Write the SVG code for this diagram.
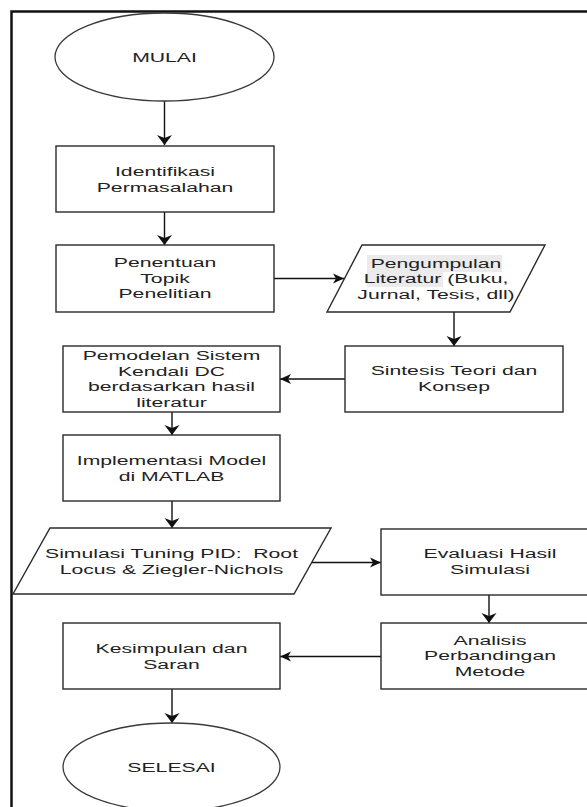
<svg xmlns="http://www.w3.org/2000/svg" width="587" height="807" viewBox="0 0 587 807">
<style>
.shape{fill:#fff;stroke:#2a2a2a;stroke-width:1.4}
.oval{fill:#fff;stroke:#3a3a3a;stroke-width:1.3}
.frame{fill:none;stroke:#111;stroke-width:2.5}
.lbl{font-family:"Liberation Sans",Arial,Helvetica,sans-serif;font-size:13.5px;fill:#222;text-anchor:middle}
.conn{fill:none;stroke:#111;stroke-width:1.4}
.hl{fill:#ebebeb}
</style>
<defs>
<marker id="arrV" markerUnits="userSpaceOnUse" markerWidth="12" markerHeight="16" refX="10" refY="7.5" orient="auto" overflow="visible">
<path d="M0,0 L10,7.5 L0,15 L3,7.5 Z" fill="#111"/>
</marker>
<marker id="arrH" markerUnits="userSpaceOnUse" markerWidth="13" markerHeight="12" refX="11" refY="5" orient="auto" overflow="visible">
<path d="M0,0 L11,5 L0,10 L3,5 Z" fill="#111"/>
</marker>
</defs>
<rect width="587" height="807" fill="#fff"/>
<rect class="frame" x="11.5" y="11.5" width="660" height="860"/>

<g id="connectors">
<path class="conn" d="M164.5,101 V145" marker-end="url(#arrV)"/>
<path class="conn" d="M164.5,212 V245" marker-end="url(#arrV)"/>
<path class="conn" d="M274,278.5 H344" marker-end="url(#arrH)"/>
<path class="conn" d="M454,312 V346" marker-end="url(#arrV)"/>
<path class="conn" d="M345,379 H280" marker-end="url(#arrH)"/>
<path class="conn" d="M172,412 V435" marker-end="url(#arrV)"/>
<path class="conn" d="M172,501 V528" marker-end="url(#arrV)"/>
<path class="conn" d="M312,562.5 H381" marker-end="url(#arrH)"/>
<path class="conn" d="M489,595 V623" marker-end="url(#arrV)"/>
<path class="conn" d="M381,656.5 H280" marker-end="url(#arrH)"/>
<path class="conn" d="M172,689 V723" marker-end="url(#arrV)"/>
</g>

<g id="mulai">
<ellipse class="oval" cx="164.5" cy="57" rx="109.5" ry="44"/>
<g transform="translate(164.5,0) scale(1.57,1)"><text class="lbl" x="0" y="62">MULAI</text></g>
</g>

<g id="identifikasi">
<rect class="shape" x="56" y="146" width="218" height="66"/>
<g transform="translate(165,0) scale(1.57,1)"><text class="lbl" x="0" y="176">Identifikasi</text><text class="lbl" x="0" y="192">Permasalahan</text></g>
</g>

<g id="penentuan">
<rect class="shape" x="56" y="245" width="218" height="67"/>
<g transform="translate(165,0) scale(1.57,1)"><text class="lbl" x="0" y="267.5">Penentuan</text><text class="lbl" x="0" y="283">Topik</text><text class="lbl" x="0" y="298.5">Penelitian</text></g>
</g>

<g id="pengumpulan">
<polygon class="shape" points="362,245 545,245 510,312 327,312"/>
<rect class="hl" x="367" y="255" width="135" height="17"/>
<rect class="hl" x="367" y="272" width="76" height="15"/>
<g transform="translate(436,0) scale(1.57,1)"><text class="lbl" x="0" y="268">Pengumpulan</text><text class="lbl" x="0" y="283.5">Literatur (Buku,</text><text class="lbl" x="0" y="299">Jurnal, Tesis, dll)</text></g>
</g>

<g id="sintesis">
<rect class="shape" x="345" y="346" width="218" height="66"/>
<g transform="translate(454,0) scale(1.57,1)"><text class="lbl" x="0" y="375.5">Sintesis Teori dan</text><text class="lbl" x="0" y="391.5">Konsep</text></g>
</g>

<g id="pemodelan">
<rect class="shape" x="63" y="346" width="217" height="66"/>
<g transform="translate(171.5,0) scale(1.57,1)"><text class="lbl" x="0" y="360.5">Pemodelan Sistem</text><text class="lbl" x="0" y="376">Kendali DC</text><text class="lbl" x="0" y="391.5">berdasarkan hasil</text><text class="lbl" x="0" y="407">literatur</text></g>
</g>

<g id="implementasi">
<rect class="shape" x="63" y="435" width="217" height="66"/>
<g transform="translate(171.5,0) scale(1.57,1)"><text class="lbl" x="0" y="465">Implementasi Model</text><text class="lbl" x="0" y="481">di MATLAB</text></g>
</g>

<g id="simulasi">
<polygon class="shape" points="50,528 331,528 294,594 13,594"/>
<g transform="translate(171.5,0) scale(1.57,1)"><text class="lbl" x="0" y="558" xml:space="preserve">Simulasi Tuning PID:  Root</text><text class="lbl" x="0" y="574">Locus &amp; Ziegler-Nichols</text></g>
</g>

<g id="evaluasi">
<rect class="shape" x="381" y="529" width="218" height="66"/>
<g transform="translate(490,0) scale(1.57,1)"><text class="lbl" x="0" y="558">Evaluasi Hasil</text><text class="lbl" x="0" y="574">Simulasi</text></g>
</g>

<g id="analisis">
<rect class="shape" x="381" y="623" width="218" height="66"/>
<g transform="translate(490,0) scale(1.57,1)"><text class="lbl" x="0" y="645">Analisis</text><text class="lbl" x="0" y="660.5">Perbandingan</text><text class="lbl" x="0" y="676">Metode</text></g>
</g>

<g id="kesimpulan">
<rect class="shape" x="63" y="623" width="217" height="66"/>
<g transform="translate(171.5,0) scale(1.57,1)"><text class="lbl" x="0" y="653">Kesimpulan dan</text><text class="lbl" x="0" y="669">Saran</text></g>
</g>

<g id="selesai">
<ellipse class="oval" cx="171.5" cy="767" rx="108.5" ry="44"/>
<g transform="translate(171.5,0) scale(1.57,1)"><text class="lbl" x="0" y="772">SELESAI</text></g>
</g>
</svg>
